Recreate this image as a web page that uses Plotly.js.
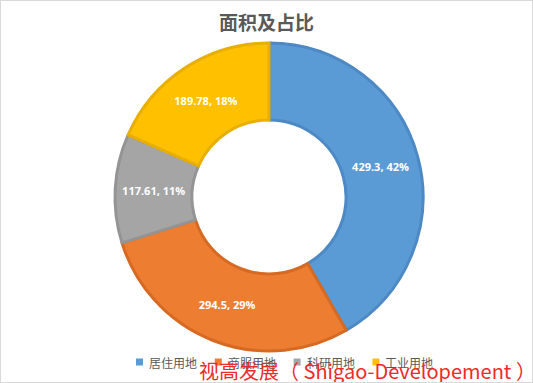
<!DOCTYPE html>
<html>
<head>
<meta charset="utf-8">
<script src="https://cdn.plot.ly/plotly-3.0.1.min.js"></script>
<style>
html,body{margin:0;padding:0;background:#fff;}
#chart{width:531px;height:381px;border:1px solid #d9d9d9;}
</style>
</head>
<body>
<div id="chart"></div>
<script>
const categories = ["居住用地", "商服用地", "科研用地", "工业用地"];
const values = [429.3, 294.5, 117.61, 189.78];
const colors = ["#5b9bd5", "#ed7d31", "#a5a5a5", "#ffc000"];
const borderColors = ["#4d89c4", "#d76a22", "#949494", "#e8ae00"];
const titleText = "面积及占比";
const watermark = "视高发展（ Shigao-Developement ）";

const W = 531, H = 381;
const M = {l: 5, r: 0, t: 42, b: 31};
const PW = W - M.l - M.r, PH = H - M.t - M.b;
const px = x => (x - 1 - M.l) / PW;
const py = y => (M.t + PH - (y - 1)) / PH;

const trace = {
  type: "pie",
  labels: categories,
  values: values,
  hole: 0.5,
  sort: false,
  direction: "clockwise",
  rotation: 0,
  marker: {colors: colors, line: {color: borderColors, width: 3}},
  texttemplate: "%{value}, %{percent:.0%}",
  textposition: "inside",
  insidetextorientation: "horizontal",
  textfont: {family: "Open Sans, Noto Sans, sans-serif", size: 11, color: "#ffffff", weight: "bold"},
  hoverinfo: "none"
};

// custom compact legend (Excel style)
const legendStart = 136, legendStep = 78.8, legendY = 362, sq = 7;
const shapes = [], annotations = [];
categories.forEach((c, i) => {
  const x0 = legendStart + i * legendStep;
  shapes.push({type: "rect", xref: "paper", yref: "paper",
    x0: px(x0), x1: px(x0 + sq), y0: py(legendY + sq / 2), y1: py(legendY - sq / 2),
    fillcolor: colors[i], line: {width: 0}});
  annotations.push({text: c, xref: "paper", yref: "paper", x: px(x0 + 11), xanchor: "left",
    y: py(legendY), yanchor: "middle", showarrow: false,
    font: {family: "Noto Sans CJK SC", size: 12, color: "#595959"}});
});
annotations.push({
  text: watermark, xref: "paper", yref: "paper", x: px(197), xanchor: "left",
  y: py(370), yanchor: "middle", showarrow: false,
  font: {family: "Noto Sans CJK SC", size: 20, color: "#ee2a2a"}
});

const layout = {
  width: W, height: H,
  margin: M,
  paper_bgcolor: "#ffffff",
  title: {text: titleText, x: 0.5, xanchor: "center", y: 1 - 22 / H, yanchor: "middle",
          font: {family: "Noto Sans CJK SC", size: 19, color: "#595959", weight: "bold"}},
  showlegend: false,
  shapes: shapes,
  annotations: annotations
};

Plotly.newPlot("chart", [trace], layout, {displayModeBar: false, staticPlot: true});
</script>
</body>
</html>
